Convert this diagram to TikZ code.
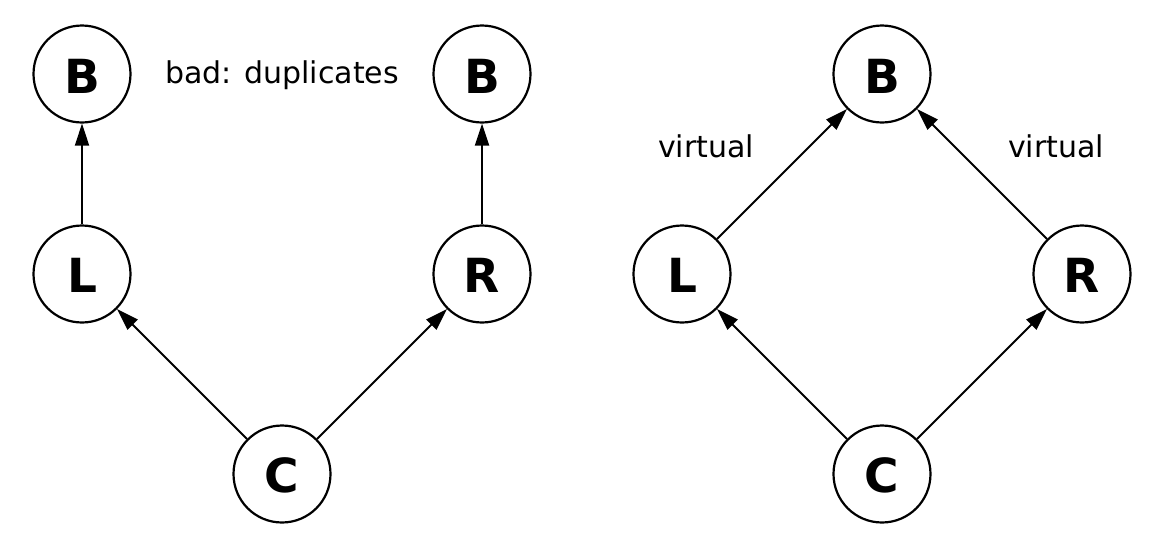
\documentclass[tikz,border=0pt]{standalone}
\usepackage{fontspec}
\setmainfont{DejaVu Sans}
\usetikzlibrary{arrows.meta}
\begin{document}
\begin{tikzpicture}[x=1pt,y=-1pt,
  vnode/.style={circle,draw,line width=2.2pt,minimum size=97pt,inner sep=0pt,
    font=\fontsize{47}{50}\selectfont\bfseries},
  lbl/.style={anchor=base,inner sep=0pt,font=\fontsize{30}{34}\selectfont},
  arr/.style={line width=2pt,-{Triangle[length=22pt,width=14pt]}}]
\useasboundingbox (0,0) rectangle (1165,550);
% left diagram
\node[vnode] (b1) at (82,74) {};
\node[vnode] (l1) at (82,274) {};
\node[vnode] (r1) at (482,274) {};
\node[vnode] (b2) at (482,74) {};
\node[vnode] (c1) at (282,474) {};
\node[anchor=base,font=\fontsize{47}{50}\selectfont\bfseries,inner sep=0pt] (tb1) at (82,93) {B};
\node[anchor=base,font=\fontsize{47}{50}\selectfont\bfseries,inner sep=0pt] (tl1) at (82,292) {L};
\node[anchor=base,font=\fontsize{47}{50}\selectfont\bfseries,inner sep=0pt] (tr1) at (482,292) {R};
\node[anchor=base,font=\fontsize{47}{50}\selectfont\bfseries,inner sep=0pt] (tb2) at (482,93) {B};
\node[anchor=base,font=\fontsize{47}{50}\selectfont\bfseries,inner sep=0pt] (tc1) at (282,492) {C};
\node[lbl] (bad) at (282,83) {bad: duplicates};
\draw[arr] (l1) -- (b1);
\draw[arr] (r1) -- (b2);
\draw[arr] (c1) -- (l1);
\draw[arr] (c1) -- (r1);
% right diagram
\node[vnode] (b3) at (882,74) {};
\node[vnode] (l3) at (682,274) {};
\node[vnode] (r3) at (1082,274) {};
\node[vnode] (c3) at (882,474) {};
\node[anchor=base,font=\fontsize{47}{50}\selectfont\bfseries,inner sep=0pt] (tb3) at (882,93) {B};
\node[anchor=base,font=\fontsize{47}{50}\selectfont\bfseries,inner sep=0pt] (tl3) at (682,292) {L};
\node[anchor=base,font=\fontsize{47}{50}\selectfont\bfseries,inner sep=0pt] (tr3) at (1082,292) {R};
\node[anchor=base,font=\fontsize{47}{50}\selectfont\bfseries,inner sep=0pt] (tc3) at (882,492) {C};
\node[lbl] (v1) at (706,157) {virtual};
\node[lbl] (v2) at (1056,157) {virtual};
\draw[arr] (l3) -- (b3);
\draw[arr] (r3) -- (b3);
\draw[arr] (c3) -- (l3);
\draw[arr] (c3) -- (r3);
\end{tikzpicture}
\end{document}
